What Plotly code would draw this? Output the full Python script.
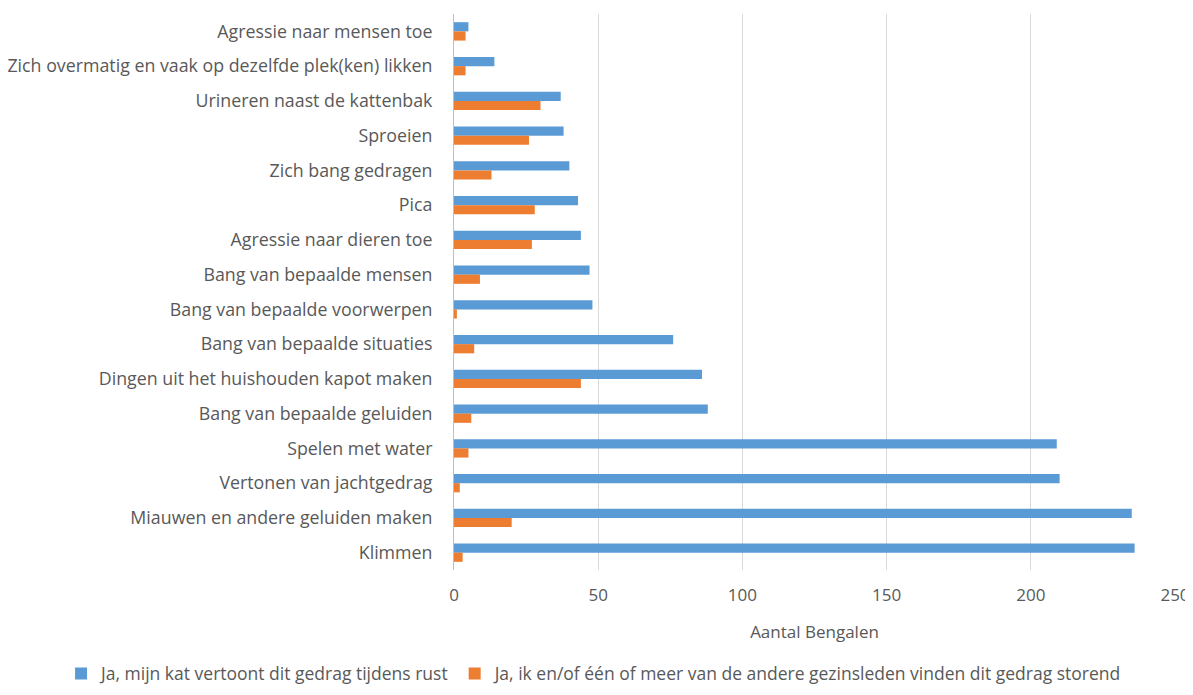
import plotly.graph_objects as go

categories = [
    "Agressie naar mensen toe",
    "Zich overmatig en vaak op dezelfde plek(ken) likken",
    "Urineren naast de kattenbak",
    "Sproeien",
    "Zich bang gedragen",
    "Pica",
    "Agressie naar dieren toe",
    "Bang van bepaalde mensen",
    "Bang van bepaalde voorwerpen",
    "Bang van bepaalde situaties",
    "Dingen uit het huishouden kapot maken",
    "Bang van bepaalde geluiden",
    "Spelen met water",
    "Vertonen van jachtgedrag",
    "Miauwen en andere geluiden maken",
    "Klimmen",
]
rust_values = [5, 14, 37, 38, 40, 43, 44, 47, 48, 76, 86, 88, 209, 210, 235, 236]
storend_values = [4, 4, 30, 26, 13, 28, 27, 9, 1, 7, 44, 6, 5, 2, 20, 3]
series_names = [
    "Ja, mijn kat vertoont dit gedrag tijdens rust",
    "Ja, ik en/of één of meer van de andere gezinsleden vinden dit gedrag storend",
]
x_ticks = [0, 50, 100, 150, 200, 250]

font_family = "Open Sans, Liberation Sans, sans-serif"
text_color = "#595959"

fig = go.Figure()
fig.add_trace(go.Bar(y=categories, x=rust_values, orientation="h", name=series_names[0],
                     marker=dict(color="#5b9bd5", line=dict(width=0))))
fig.add_trace(go.Bar(y=categories, x=storend_values, orientation="h", name=series_names[1],
                     marker=dict(color="#ed7d31", line=dict(width=0))))

fig.update_layout(
    width=1185, height=695,
    barmode="group", bargap=0.47, bargroupgap=0,
    plot_bgcolor="white", paper_bgcolor="white",
    margin=dict(l=446, r=18, t=6, b=133),
    font=dict(family=font_family, size=17, color=text_color),
    xaxis=dict(range=[0, 250], tickvals=x_ticks, showgrid=True, gridcolor="#d9d9d9", gridwidth=1,
               zeroline=False, showline=False, ticks="", tickfont=dict(size=17, color=text_color),
               ticklabelstandoff=13,
               title=dict(text="Aantal Bengalen", font=dict(size=17, color=text_color), standoff=21),
               automargin=False, fixedrange=True),
    yaxis=dict(autorange="reversed", showline=True, linecolor="#bfbfbf", linewidth=1, ticks="",
               showgrid=False, tickfont=dict(size=17.8, color=text_color), ticklabelstandoff=17,
               automargin=False),
    legend=dict(orientation="h", x=-0.545, xanchor="left", xref="paper", y=-0.154, yanchor="top",
                yref="paper", font=dict(size=17.5, color=text_color),
                itemwidth=30, traceorder="normal"),
    showlegend=True,
)
fig.write_html("out.html")
